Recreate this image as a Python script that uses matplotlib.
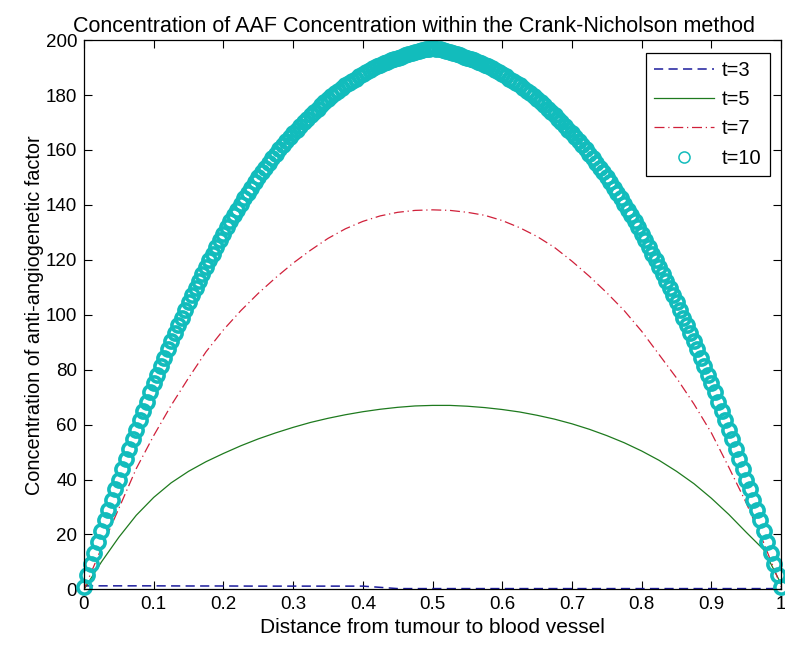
import numpy as np
import matplotlib
matplotlib.use('Agg')
import matplotlib.pyplot as plt
from matplotlib.ticker import FuncFormatter

plt.rcParams['font.family'] = ['Liberation Sans', 'DejaVu Sans']

# line series, sampled every 0.025 along the distance axis
x_line = np.linspace(0, 1, 41)
t5 = [0, 10, 19, 27, 33.5, 38.8, 43, 46.5, 49.5, 52.3,
      54.8, 57, 59, 60.8, 62.3, 63.6, 64.7, 65.6, 66.3, 66.8,
      67.0, 67.0, 66.7, 66.2, 65.5, 64.6, 63.4, 62.0, 60.3, 58.3,
      56.0, 53.4, 50.4, 47.0, 43.0, 38.5, 33.2, 27.3, 20.8, 14.5,
      2.0]
t7 = [0, 15, 29.5, 44, 56, 67, 77, 86.5, 94.5, 101.5,
      107.8, 113.5, 118.8, 123.5, 127.8, 131.3, 134, 136, 137.3, 138,
      138.2, 138, 137.3, 136.2, 134.3, 131.7, 128.5, 124.5, 119.5, 114,
      108, 101.5, 94, 85.5, 77, 67.5, 57, 44.5, 31.5, 17,
      1]

# t=3 sampled every 0.05
x_t3 = np.linspace(0, 1, 21)
t3 = [1.3, 1.3, 1.3, 1.25, 1.25, 1.2, 1.2, 1.2, 1.2, 0.3,
      0.3, 0.3, 0.3, 0.3, 0.3, 0.3, 0.3, 0.3, 0.3, 0.3, 0.3]

# t=10 markers, every 0.005
x_t10 = np.linspace(0, 1, 201)
t10 = [1.0, 5.2, 9.3, 13.4, 17.4, 21.3, 25.2, 29.0, 32.7, 36.4,
       40.0, 43.7, 47.4, 51.0, 54.6, 58.1, 61.6, 65.0, 68.4, 71.7,
       75.0, 78.2, 81.3, 84.4, 87.4, 90.4, 93.3, 96.2, 99.0, 101.8,
       104.5, 107.2, 109.8, 112.4, 114.9, 117.4, 119.9, 122.3, 124.7, 127.1,
       129.5, 131.8, 134.0, 136.2, 138.3, 140.4, 142.4, 144.4, 146.3, 148.2,
       150.0, 151.8, 153.6, 155.3, 157.0, 158.6, 160.2, 161.7, 163.2, 164.6,
       166.0, 167.4, 168.8, 170.1, 171.4, 172.7, 173.9, 175.1, 176.3, 177.4,
       178.5, 179.6, 180.6, 181.6, 182.6, 183.5, 184.4, 185.2, 186.0, 186.8,
       187.5, 188.3, 189.0, 189.7, 190.4, 191.0, 191.6, 192.1, 192.6, 193.1,
       193.5, 194.0, 194.5, 194.9, 195.3, 195.7, 196.0, 196.3, 196.6, 196.8,
       197.0,
       196.8, 196.6, 196.3, 196.0, 195.7, 195.3, 194.9, 194.5, 194.0, 193.5,
       193.1, 192.6, 192.1, 191.6, 191.0, 190.4, 189.7, 189.0, 188.3, 187.5,
       186.8, 186.0, 185.2, 184.4, 183.5, 182.6, 181.6, 180.6, 179.6, 178.5,
       177.4, 176.3, 175.1, 173.9, 172.7, 171.4, 170.1, 168.8, 167.4, 166.0,
       164.6, 163.2, 161.7, 160.2, 158.6, 157.0, 155.3, 153.6, 151.8, 150.0,
       148.2, 146.3, 144.4, 142.4, 140.4, 138.3, 136.2, 134.0, 131.8, 129.5,
       127.1, 124.7, 122.3, 119.9, 117.4, 114.9, 112.4, 109.8, 107.2, 104.5,
       101.8, 99.0, 96.2, 93.3, 90.4, 87.4, 84.4, 81.3, 78.2, 75.0,
       71.7, 68.4, 65.0, 61.6, 58.1, 54.6, 51.0, 47.4, 43.7, 40.0,
       36.4, 32.7, 29.0, 25.2, 21.3, 17.4, 13.4, 9.3, 5.2, 1.0]

labels = ['t=3', 't=5', 't=7', 't=10']

fig = plt.figure(figsize=(7.85, 6.47), dpi=100)
ax = fig.add_axes([0.107, 0.089, 0.888, 0.849])

ax.plot(x_t3, t3, color='#1c1c9c', linestyle=(0, (6, 3.5)), lw=1.1, label=labels[0])
ax.plot(x_line, t5, color='#1e7a1e', linestyle='-', lw=0.9, label=labels[1])
ax.plot(x_line, t7, color='#d0203a', linestyle=(0, (8, 3, 1, 3)), lw=0.9, label=labels[2])
ax.plot(x_t10, t10, color='#12bcbc', linestyle='none', marker='o', markersize=9.5,
        markerfacecolor='none', markeredgewidth=2.6, label=labels[3], clip_on=False)

ax.set_xlim(0, 1)
ax.set_ylim(0, 200)
ax.set_xticks(np.arange(0, 1.01, 0.1))
ax.set_yticks(np.arange(0, 201, 20))
ax.xaxis.set_major_formatter(FuncFormatter(lambda v, p: '%g' % round(v, 1)))
ax.tick_params(direction='in', top=True, right=True, length=6, width=0.8,
               labelsize=13.5, pad=5)
for s in ax.spines.values():
    s.set_linewidth(0.9)

ax.set_title('Concentration of AAF Concentration within the Crank-Nicholson method',
             fontsize=15.5, pad=6, x=0.474)
ax.set_xlabel('Distance from tumour to blood vessel', fontsize=15, labelpad=3)
ax.set_ylabel('Concentration of anti-angiogenetic factor', fontsize=14.3, labelpad=1)

leg = ax.legend(loc='upper right', bbox_to_anchor=(0.984, 0.976), borderaxespad=0,
                fontsize=14.5, fancybox=False, edgecolor='black', framealpha=1,
                handlelength=3.0, labelspacing=0.5, numpoints=1, handletextpad=0.4,
                borderpad=0.4)
leg.get_frame().set_linewidth(0.9)
leg.legend_handles[3].set_markeredgewidth(1.1)
leg.legend_handles[3].set_markersize(8)

fig.savefig('out.png', dpi=100)
